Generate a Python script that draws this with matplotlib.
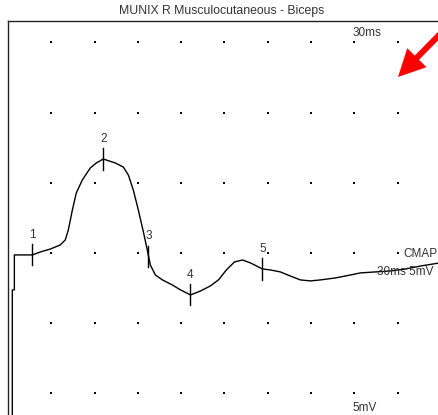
import matplotlib.pyplot as plt
from matplotlib.patches import FancyArrow
import numpy as np

plt.rcParams['font.family'] = ['Liberation Sans', 'DejaVu Sans']

# CMAP trace (time in ms, amplitude in mV)
t_ms = [0.30, 0.30, 0.44, 0.44, 1.68, 2.24, 2.93, 3.62, 3.97, 4.18, 4.46, 4.73,
        5.15, 5.70, 6.12, 6.60, 7.43, 7.99, 8.34, 8.68, 9.03, 9.38, 9.65, 9.86,
        10.21, 10.70, 11.39, 11.95, 12.64, 13.33, 14.02, 14.58, 15.13, 15.69,
        16.24, 16.80, 17.63, 18.18, 18.87, 19.56, 20.26, 20.95, 21.64, 22.68,
        23.72, 24.42, 25.46, 26.50, 27.54, 28.58, 29.90]
amp_mv = [-11.6, -2.63, -2.63, -0.14, -0.14, 0.07, 0.28, 0.57, 0.93, 1.64, 3.06, 4.27,
          5.20, 6.05, 6.41, 6.69, 6.41, 6.12, 5.55, 4.49, 3.06, 1.50, 0.21, -0.85,
          -1.57, -1.92, -2.28, -2.63, -2.99, -2.71, -2.35, -1.92, -1.21, -0.64,
          -0.50, -0.71, -1.14, -1.21, -1.35, -1.64, -1.92, -1.99, -1.92, -1.78,
          -1.57, -1.42, -1.35, -1.28, -1.14, -0.93, -0.71]

# cursor markers
mark_labels = ['1', '2', '3', '4', '5']
mark_t = [1.68, 6.60, 9.72, 12.64, 17.63]
mark_v = [-0.14, 6.69, -0.25, -2.99, -1.14]

# grid dot positions
grid_t = [3, 6, 9, 12, 15, 18, 21, 24, 27, 30]
grid_v = [-10, -5, 0, 5, 10, 15]

W, H = 439, 415
fig = plt.figure(figsize=(W / 100, H / 100), dpi=100)
ax = fig.add_axes([8 / W, 0, 433 / W, 394 / H])
ax.set_xlim(0, 30)
ax.set_ylim(-11.54, 16.52)
ax.set_xticks([])
ax.set_yticks([])
for s in ['right', 'bottom']:
    ax.spines[s].set_visible(False)
for s in ['left', 'top']:
    ax.spines[s].set_linewidth(1.0)
    ax.spines[s].set_color('#222222')

gx, gy = np.meshgrid(grid_t, grid_v)
ax.scatter(gx.ravel(), gy.ravel(), s=2, color='black', marker='s', linewidths=0,
           clip_on=False)

ax.plot(t_ms, amp_mv, color='black', lw=1.0, clip_on=False)

for lab, mt, mv in zip(mark_labels, mark_t, mark_v):
    ax.plot([mt, mt], [mv - 0.75, mv + 0.75], color='black', lw=1.0)
    ax.text(mt, mv + 1.0, lab, ha='center', va='bottom', fontsize=8.5,
            color='#333333')

txt = dict(fontsize=8.5, color='#333333')
ax.text(23.9, 15.65, '30ms', ha='left', va='center', **txt)
ax.text(23.9, -11.5, '5mV', ha='left', va='bottom', **txt)
ax.text(27.4, -0.05, 'CMAP', ha='left', va='center', **txt)
ax.text(25.6, -1.35, '30ms 5mV', ha='left', va='center', **txt)

fig.text(222 / W, 1 - 11 / H, 'MUNIX R Musculocutaneous - Biceps',
         ha='center', va='center', fontsize=8.8, color='#333333')

# red pointer arrow in the upper right (inch coordinates)
fig.patches.append(FancyArrow(
    4.47, (H - 27) / 100, -0.49, -0.50, width=0.06, head_width=0.27,
    head_length=0.27, length_includes_head=True, color='#ff0000', lw=0,
    transform=fig.dpi_scale_trans, figure=fig))

fig.savefig('out.png', dpi=100)
